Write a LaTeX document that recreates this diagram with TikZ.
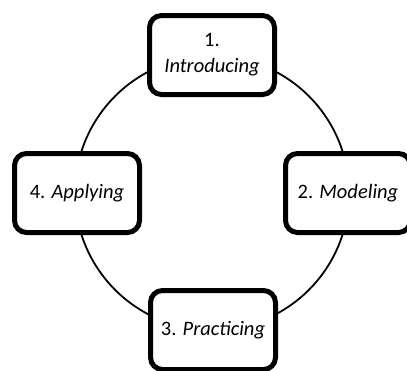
\documentclass[tikz,border=0pt]{standalone}
\usepackage{fontspec}
\setmainfont{Carlito}
\begin{document}
\begin{tikzpicture}[x=1pt,y=-1pt,
  stage/.style={draw=black, fill=white, line width=5pt, rounded corners=12pt,
    minimum width=125pt, minimum height=79pt, inner sep=0pt, align=center,
    font=\fontsize{20.5}{26}\selectfont},
  ring/.style={draw=black, line width=1.8pt}]
\useasboundingbox (0,0) rectangle (407,370);
\clip (0,0) rectangle (407,370);
\coordinate (c) at (212,193);
\draw[ring] (c) circle[radius=137pt];
\node[stage] (n1) at (212,55) {1.\\\textit{Introducing}};
\node[stage] (n2) at (348,193) {2. \textit{Modeling}};
\node[stage] (n3) at (213,330) {3. \textit{Practicing}};
\node[stage] (n4) at (77,193) {4. \textit{Applying}};
\end{tikzpicture}
\end{document}
